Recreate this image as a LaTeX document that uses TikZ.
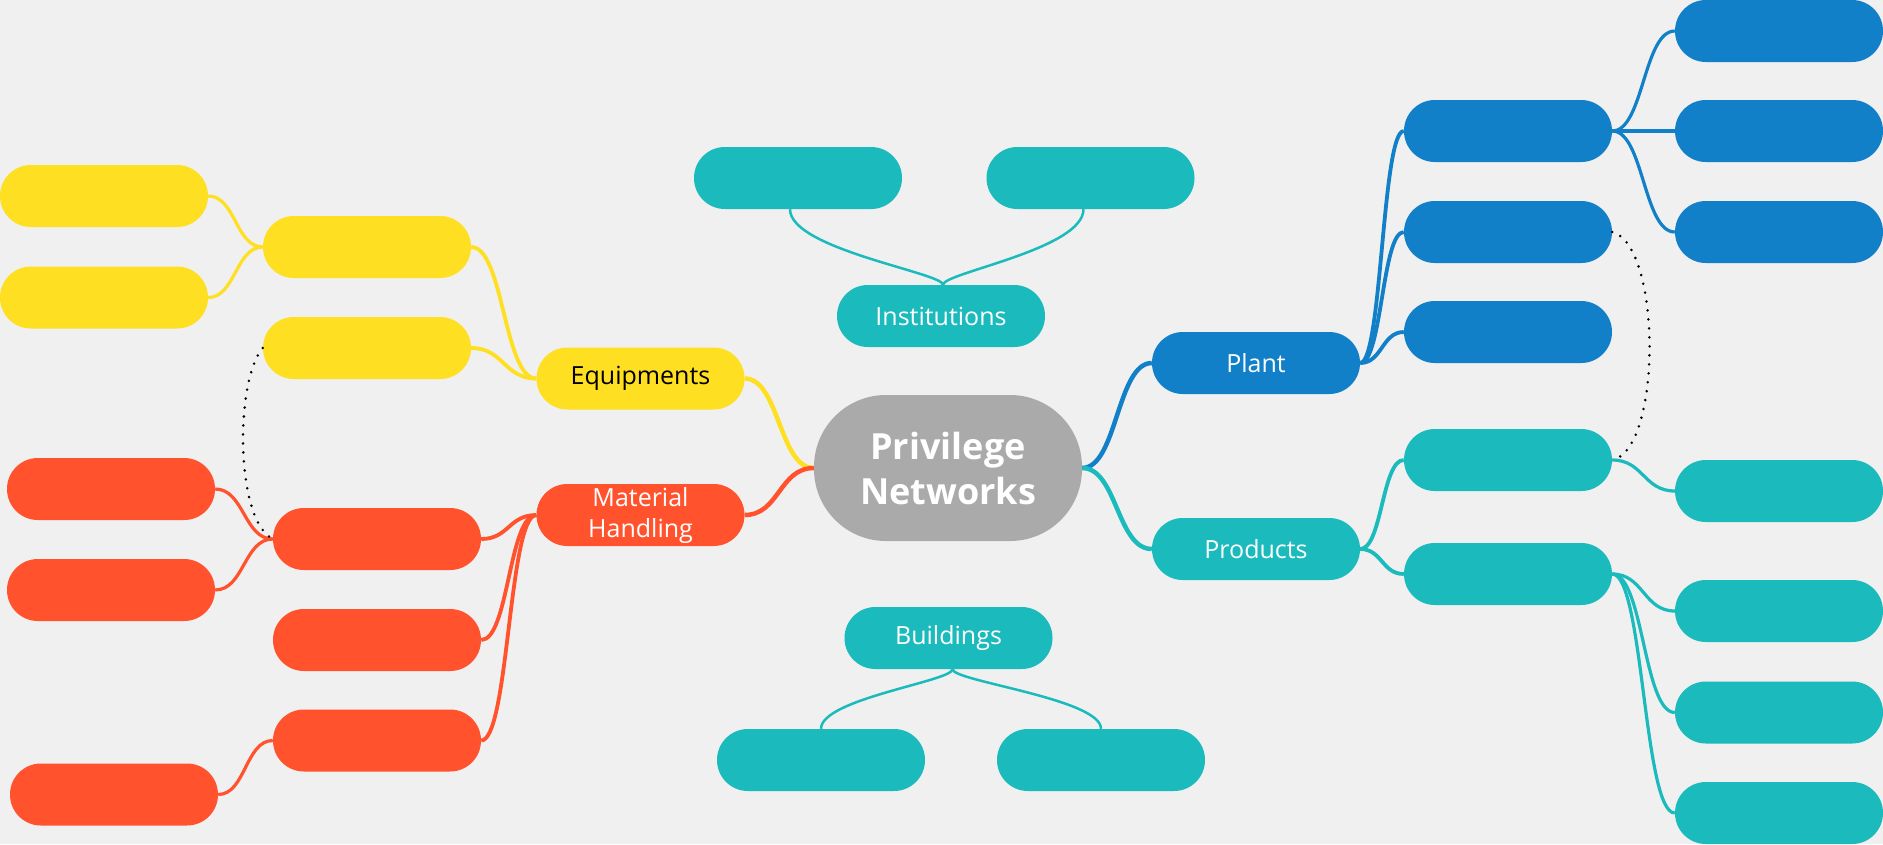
\documentclass[tikz,border=0pt]{standalone}
\usepackage{fontspec}
\setmainfont{Open Sans}
\usetikzlibrary{calc}
\definecolor{bgc}{HTML}{F0F0F0}
\definecolor{yelc}{HTML}{FFDF21}
\definecolor{redc}{HTML}{FF522D}
\definecolor{tealc}{HTML}{1BBABD}
\definecolor{bluec}{HTML}{1180C8}
\definecolor{greyc}{HTML}{AAAAAA}
\newcommand{\mmlink}[3]{\draw[#1] let \p1=(#2), \p2=(#3), \n1={(\x2-\x1)/2} in (\p1) .. controls +(\n1,0) and +(-\n1,0) .. (\p2);}
\begin{document}
\begin{tikzpicture}[x=1pt,y=-1pt,
  bx/.style={rectangle, rounded corners=30.9pt, minimum width=208pt, minimum height=62pt, inner sep=0pt, text=white, font=\fontsize{25}{31}\selectfont},
  yb/.style={bx, fill=yelc},
  rb/.style={bx, fill=redc},
  tb/.style={bx, fill=tealc},
  bb/.style={bx, fill=bluec},
  lwA/.style={line width=4.5pt},
  lwB/.style={line width=3.8pt},
  lwC/.style={line width=3.2pt},
  lwD/.style={line width=2.5pt},
  dotc/.style={black, line width=2.8pt, dash pattern=on 0pt off 9pt, line cap=round}]
\fill[bgc] (0,0) rectangle (1883,844);
\useasboundingbox (0,0) rectangle (1883,844);

% central
\node[bx, fill=greyc, minimum width=268pt, minimum height=146pt, rounded corners=72pt, align=center, font=\bfseries\fontsize{36}{45}\selectfont] (central) at (948,468) {Privilege\\Networks};

% main branches
\node[yb, text=black] (equip) at (640.5,378.5) {Equipments};
\node[rb, align=center] (mh) at (640.5,515) {Material\\Handling};
\node[bb] (plant) at (1256,363) {Plant};
\node[tb] (products) at (1256,549) {Products};
\node[tb] (inst) at (941,316) {Institutions};
\node[tb] (bldg) at (948.5,638) {Buildings};

% institutions / buildings children
\node[tb] (il) at (798,178) {};
\node[tb] (ir) at (1090.5,178) {};
\node[tb] (bl) at (821,760) {};
\node[tb] (br) at (1101,760) {};

% equipments
\node[yb] (es1) at (367,247) {};
\node[yb] (es2) at (367,348) {};
\node[yb] (el1) at (104,196) {};
\node[yb] (el2) at (104,297.5) {};

% material handling
\node[rb] (ms1) at (377,539) {};
\node[rb] (ms2) at (377,640) {};
\node[rb] (ms3) at (377,740.5) {};
\node[rb] (ml1) at (111,489) {};
\node[rb] (ml2) at (111,590) {};
\node[rb] (ml3) at (114,794.5) {};

% plant
\node[bb] (ps1) at (1508,131) {};
\node[bb] (ps2) at (1508,232) {};
\node[bb] (ps3) at (1508,332) {};
\node[bb] (pr1) at (1779,31) {};
\node[bb] (pr2) at (1779,131) {};
\node[bb] (pr3) at (1779,232) {};

% products
\node[tb] (qs1) at (1508,460) {};
\node[tb] (qs2) at (1508,574) {};
\node[tb] (qr1) at (1779,491) {};
\node[tb] (qr2) at (1779,611) {};
\node[tb] (qr3) at (1779,712.5) {};
\node[tb] (qr4) at (1779,813) {};

% connectors from centre
\mmlink{yelc,lwA}{central.west}{equip.east}
\mmlink{redc,lwA}{central.west}{mh.east}
\mmlink{bluec,lwA}{central.east}{plant.west}
\mmlink{tealc,lwA}{central.east}{products.west}

% equipments
\mmlink{yelc,lwB}{equip.west}{es1.east}
\mmlink{yelc,lwB}{equip.west}{es2.east}
\mmlink{yelc,lwC}{es1.west}{el1.east}
\mmlink{yelc,lwC}{es1.west}{el2.east}

% material handling
\mmlink{redc,lwB}{mh.west}{ms1.east}
\mmlink{redc,lwB}{mh.west}{ms2.east}
\mmlink{redc,lwB}{mh.west}{ms3.east}
\mmlink{redc,lwC}{ms1.west}{ml1.east}
\mmlink{redc,lwC}{ms1.west}{ml2.east}
\mmlink{redc,lwC}{ms3.west}{ml3.east}

% plant
\mmlink{bluec,lwB}{plant.east}{ps1.west}
\mmlink{bluec,lwB}{plant.east}{ps2.west}
\mmlink{bluec,lwB}{plant.east}{ps3.west}
\mmlink{bluec,lwC}{ps1.east}{pr1.west}
\mmlink{bluec,lwC}{ps1.east}{pr2.west}
\mmlink{bluec,lwC}{ps1.east}{pr3.west}

% products
\mmlink{tealc,lwB}{products.east}{qs1.west}
\mmlink{tealc,lwB}{products.east}{qs2.west}
\mmlink{tealc,lwC}{qs1.east}{qr1.west}
\mmlink{tealc,lwC}{qs2.east}{qr2.west}
\mmlink{tealc,lwC}{qs2.east}{qr3.west}
\mmlink{tealc,lwC}{qs2.east}{qr4.west}

% institutions and buildings
\draw[tealc,lwD] ([xshift=-8pt]il.south) .. controls +(0,40) and +(0,-12) .. ([xshift=2pt]inst.north);
\draw[tealc,lwD] ([xshift=-7pt]ir.south) .. controls +(0,40) and +(0,-12) .. ([xshift=2pt]inst.north);
\draw[tealc,lwD] (bl.north) .. controls +(0,-30) and +(0,12) .. ([xshift=4pt]bldg.south);
\draw[tealc,lwD] (br.north) .. controls +(0,-30) and +(0,12) .. ([xshift=4pt]bldg.south);

% dotted relations
\draw[dotc] (es2.west) .. controls (235,380) and (235,520) .. (ms1.west);
\draw[dotc] (ps2.east) .. controls (1662,245) and (1662,450) .. (qs1.east);
\end{tikzpicture}
\end{document}
